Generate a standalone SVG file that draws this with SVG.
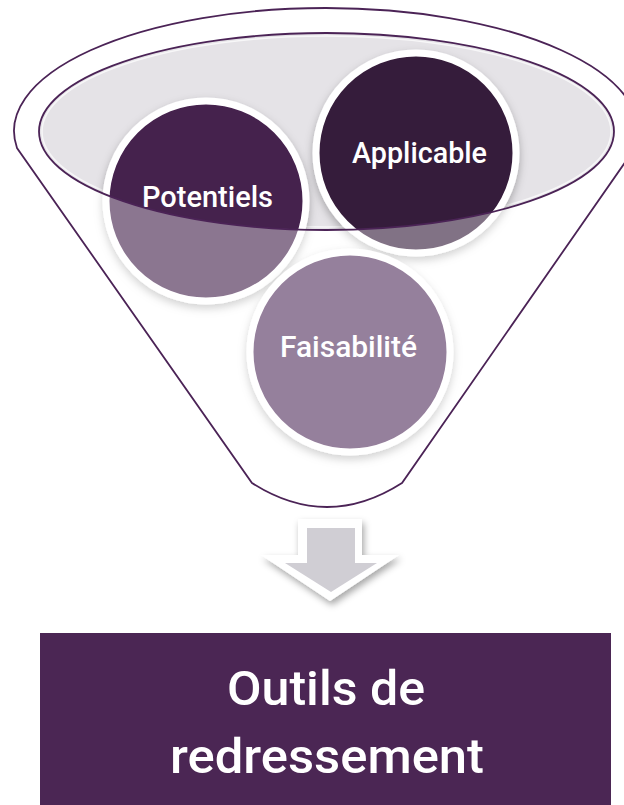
<svg xmlns="http://www.w3.org/2000/svg" width="624" height="805" viewBox="0 0 624 805">
  <style>
    .outline { fill: none; stroke: #4b2356; stroke-width: 1.8; }
    .node-circle { stroke: #ffffff; stroke-width: 7; filter: url(#shadow); }
    .lbl { font-family: Roboto, "Liberation Sans", Arial, sans-serif; font-weight: 500; fill: #ffffff; text-anchor: middle; }
    .small { font-size: 30px; }
    .big { font-size: 48px; }
  </style>
  <defs>
    <filter id="shadow" x="-20%" y="-20%" width="140%" height="150%">
      <feDropShadow dx="0" dy="4" stdDeviation="4" flood-color="#000000" flood-opacity="0.28"/>
    </filter>
    <filter id="arrowShadow" x="-30%" y="-30%" width="160%" height="170%">
      <feDropShadow dx="2" dy="4" stdDeviation="3.5" flood-color="#000000" flood-opacity="0.35"/>
    </filter>
  </defs>

  <g id="funnel-back">
    <ellipse cx="326.5" cy="131.5" rx="287.5" ry="98.5" fill="#e5e3e7"/>
    <ellipse cx="326.5" cy="131.5" rx="284.5" ry="95.5" fill="none" stroke="#ffffff" stroke-width="1.5" opacity="0.7"/>
  </g>

  <g id="node-potentiels">
    <circle class="node-circle" cx="206" cy="201" r="100" fill="#45204d"/>
    <text class="lbl small" x="207.5" y="207" textLength="131" lengthAdjust="spacingAndGlyphs">Potentiels</text>
  </g>

  <g id="node-applicable">
    <circle class="node-circle" cx="416" cy="153" r="100" fill="#361c3a"/>
    <text class="lbl small" x="419.5" y="163" textLength="135" lengthAdjust="spacingAndGlyphs">Applicable</text>
  </g>

  <g id="node-faisabilite">
    <circle class="node-circle" cx="350" cy="352" r="100" fill="#55305f"/>
    <text class="lbl small" x="348.5" y="357" textLength="137" lengthAdjust="spacingAndGlyphs">Faisabilité</text>
  </g>

  <g id="funnel-front">
    <path fill="#ffffff" fill-opacity="0.38" fill-rule="evenodd"
          d="M17,148 A312,123 0 1 1 635,148 L402,483 Q327,531 252,483 Z
             M39,131.5 A287.5,98.5 0 1 0 614,131.5 A287.5,98.5 0 1 0 39,131.5 Z"/>
    <path class="outline" d="M17,148 A312,123 0 1 1 635,148 L402,483 Q327,531 252,483 Z"/>
    <ellipse class="outline" cx="326.5" cy="131.5" rx="287.5" ry="98.5"/>
  </g>

  <g id="connectors">
    <path d="M298,519 H362 V555 H399 L330,601 L261,555 H298 Z" fill="#ffffff" filter="url(#arrowShadow)"/>
    <path d="M307,528 H355 V563 H377 L331,592 L285,563 H307 Z" fill="#d0ced4"/>
  </g>

  <g id="node-outils">
    <rect x="40" y="633" width="571" height="180" fill="#4b2654"/>
    <text class="lbl big" x="326" y="705" textLength="198" lengthAdjust="spacingAndGlyphs">Outils de</text>
    <text class="lbl big" x="327" y="773" textLength="314" lengthAdjust="spacingAndGlyphs">redressement</text>
  </g>
</svg>
